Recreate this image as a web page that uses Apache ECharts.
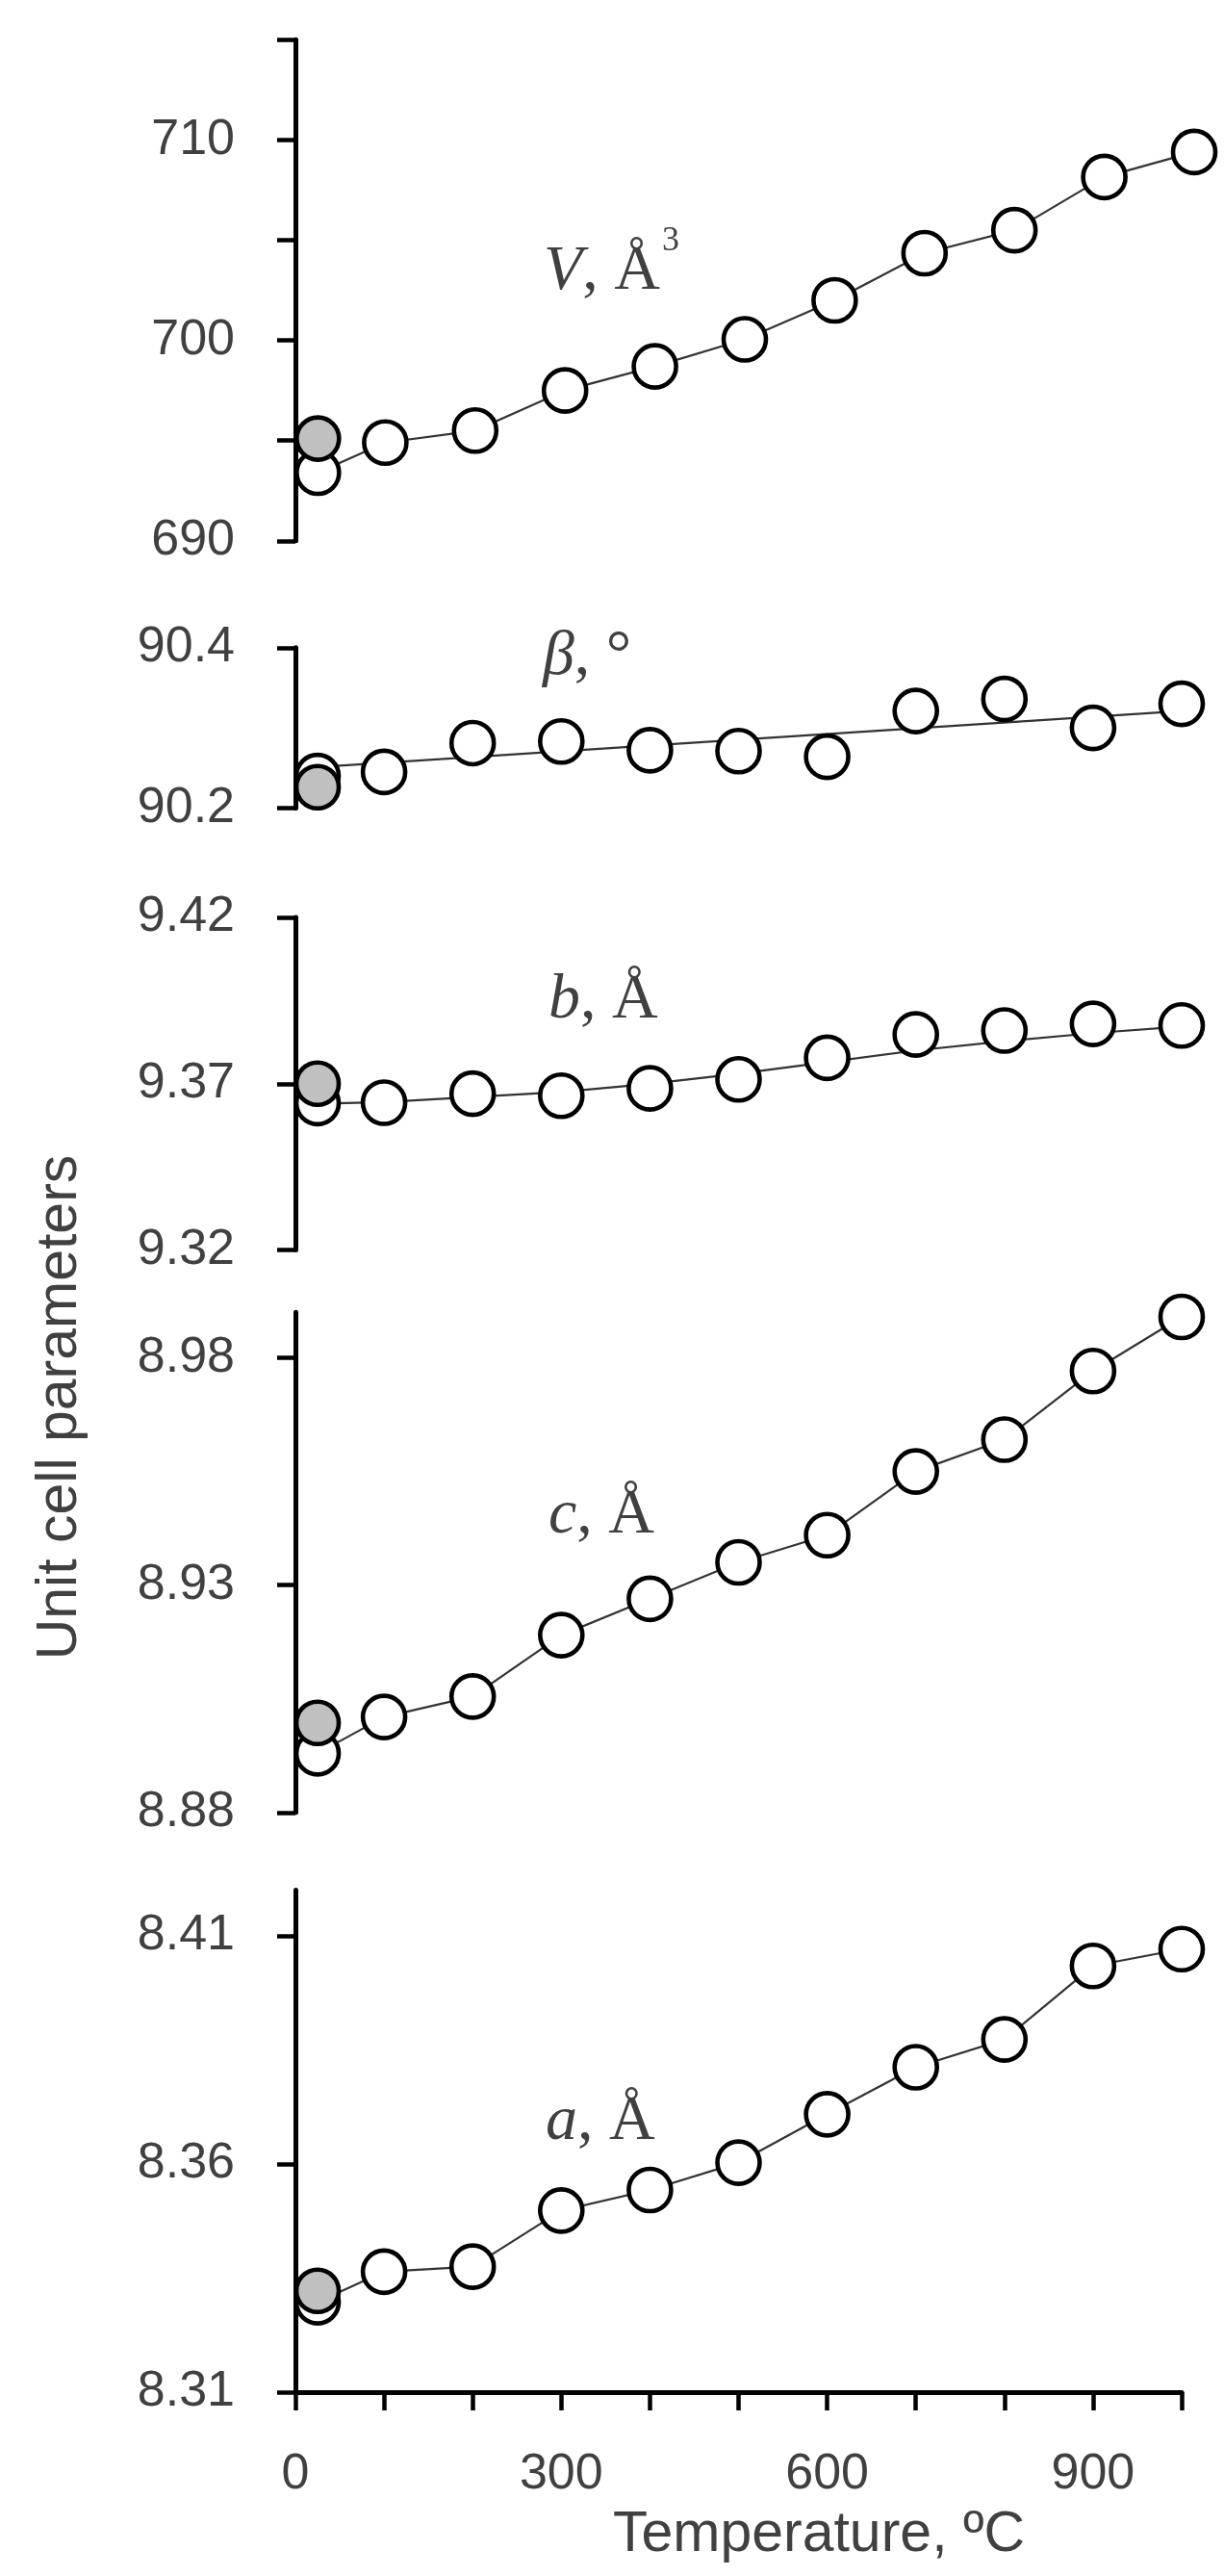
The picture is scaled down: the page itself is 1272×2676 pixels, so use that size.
<!DOCTYPE html>
<html>
<head>
<meta charset="utf-8">
<script src="https://cdn.jsdelivr.net/npm/echarts@6/dist/echarts.min.js"></script>
<style>
html,body{margin:0;padding:0;background:#ffffff;}
#chart{width:1272px;height:2676px;}
</style>
</head>
<body>
<div id="chart"></div>
<script>
// ---------- data ----------
const temperatures = [25, 100, 200, 300, 400, 500, 600, 700, 800, 900, 1000];
const roomTemperature = [25];

const volume      = [693.4, 694.9, 695.5, 697.5, 698.7, 700.05, 702.0, 704.35, 705.5, 708.15, 709.4];
const volumeGray  = [695.1];

const beta        = [90.240, 90.245, 90.281, 90.283, 90.272, 90.271, 90.264, 90.321, 90.336, 90.300, 90.330];
const betaGray    = [90.226];
const betaFitT    = [25, 1000];
const betaFit     = [90.251, 90.321];

const bParam      = [9.3642, 9.3643, 9.3670, 9.3664, 9.3686, 9.3713, 9.3778, 9.3848, 9.3860, 9.3880, 9.3875];
const bGray       = [9.3700];
const bFit        = [9.3640, 9.3645, 9.3660, 9.3675, 9.3700, 9.3730, 9.3765, 9.3800, 9.3828, 9.3852, 9.3872];

const cParam      = [8.8930, 8.9010, 8.9055, 8.9190, 8.9270, 8.9350, 8.9410, 8.9550, 8.9620, 8.9771, 8.9890];
const cGray       = [8.8997];

const aParam      = [8.3297, 8.3364, 8.3375, 8.3498, 8.3543, 8.3603, 8.3709, 8.3812, 8.3873, 8.4034, 8.4071];
const aGray       = [8.3322];

const xTicks  = [0, 100, 200, 300, 400, 500, 600, 700, 800, 900, 1000];
const xLabels = [0, 300, 600, 900];

const vTicks  = [690, 695, 700, 705, 710, 715];
const vLabels = [690, 700, 710];
const betaTicks  = [90.2, 90.4];
const bTicks  = [9.32, 9.37, 9.42];
const cTicks  = [8.88, 8.93, 8.98];
const aTicks  = [8.31, 8.36, 8.41];

// ---------- styles ----------
const INK = '#000000';
const TEXT = '#404040';
const SANS = '"Liberation Sans", Arial, sans-serif';
const SERIF = '"Liberation Serif", "Times New Roman", serif';

const panels = [
  {key:'V', grid:{left:307, top:41.3, width:934, height:520.5}, min:690, max:715, ticks:vTicks, labels:vLabels, dec:0,
   white:volume, gray:volumeGray, fitT:temperatures, fit:volume},
  {key:'beta', grid:{left:307, top:672.8, width:921, height:166.6}, min:90.2, max:90.4, ticks:betaTicks, labels:betaTicks, dec:1,
   white:beta, gray:betaGray, fitT:betaFitT, fit:betaFit},
  {key:'b', grid:{left:307, top:953, width:921, height:345.6}, min:9.32, max:9.42, ticks:bTicks, labels:bTicks, dec:2,
   white:bParam, gray:bGray, fitT:temperatures, fit:bFit},
  {key:'c', grid:{left:307, top:1363.3, width:921, height:519.5}, min:8.88, max:8.99, ticks:cTicks, labels:cTicks, dec:2,
   white:cParam, gray:cGray, fitT:temperatures, fit:cParam},
  {key:'a', grid:{left:307, top:1963.6, width:921, height:521.4}, min:8.31, max:8.42, ticks:aTicks, labels:aTicks, dec:2,
   white:aParam, gray:aGray, fitT:temperatures, fit:aParam}
];

const grids = [], xAxes = [], yAxes = [], series = [];
panels.forEach((p, i) => {
  const last = i === panels.length - 1;
  grids.push(Object.assign({containLabel:false, outerBoundsMode:'none'}, p.grid));
  xAxes.push({
    type:'value', gridIndex:i, min:0, max:1000, show:last,
    axisLine:{show:true, onZero:false, lineStyle:{color:INK, width:5}},
    axisTick:{show:true, inside:false, length:19, customValues:xTicks, lineStyle:{color:INK, width:4.5}},
    axisLabel:{show:true, customValues:xLabels, margin:60, fontSize:52, fontFamily:SANS, color:TEXT,
               formatter:v => String(Math.round(v))},
    splitLine:{show:false}
  });
  yAxes.push({
    type:'value', gridIndex:i, min:p.min, max:p.max,
    axisLine:{show:true, onZero:false, lineStyle:{color:INK, width:5}},
    axisTick:{show:true, inside:false, length:19, customValues:p.ticks, lineStyle:{color:INK, width:4.5}},
    axisLabel:{show:true, customValues:p.labels, margin:63, fontSize:52, fontFamily:SANS, color:TEXT,
               formatter:v => Number(v).toFixed(p.dec)},
    splitLine:{show:false}
  });
  series.push({
    type:'line', xAxisIndex:i, yAxisIndex:i, z:1, silent:true, showSymbol:false, symbol:'none',
    data:p.fitT.map((t,k)=>[t, p.fit[k]]),
    lineStyle:{color:'#333333', width:2.2}
  });
  series.push({
    type:'scatter', xAxisIndex:i, yAxisIndex:i, z:2, silent:true, symbol:'circle', symbolSize:44,
    data:temperatures.map((t,k)=>[t, p.white[k]]),
    itemStyle:{color:'#ffffff', borderColor:INK, borderWidth:4.6, opacity:1}
  });
  series.push({
    type:'scatter', xAxisIndex:i, yAxisIndex:i, z:3, silent:true, symbol:'circle', symbolSize:44,
    data:roomTemperature.map((t,k)=>[t, p.gray[k]]),
    itemStyle:{color:'#c0c0c0', borderColor:INK, borderWidth:4.6, opacity:1}
  });
});

function panelLabel(letter, unit, x, y, unitSize) {
  return {
    type:'text', x:x, y:y, silent:true, z:10,
    style:{
      text:'{i|' + letter + '}{r|' + unit + '}',
      align:'left', verticalAlign:'middle', textAlign:'left', textVerticalAlign:'middle',
      rich:{
        i:{fontFamily:SERIF, fontStyle:'italic', fontSize:66, lineHeight:66, fill:TEXT, color:TEXT},
        r:{fontFamily:SERIF, fontSize:unitSize || 66, lineHeight:66, fill:TEXT, color:TEXT}
      }
    }
  };
}

const graphics = [
  panelLabel('V', ', Å', 565, 283),
  {type:'text', x:688, y:233, silent:true, z:10,
   style:{text:'3', font:'36px ' + SERIF, fill:TEXT, align:'left', verticalAlign:'top', textAlign:'left', textVerticalAlign:'top'}},
  panelLabel('β', ', °', 564, 683),
  panelLabel('b', ', Å', 570, 1040),
  panelLabel('c', ', Å', 570, 1575),
  panelLabel('a', ', Å', 567, 2205),
  {type:'text', x:63, y:1462, rotation:Math.PI/2, silent:true, z:10,
   style:{text:'Unit cell parameters', font:'59px ' + SANS, fill:TEXT, align:'center', verticalAlign:'middle', textAlign:'center', textVerticalAlign:'middle'}},
  {type:'text', x:851, y:2634, silent:true, z:10,
   style:{text:'Temperature, ºC', font:'59px ' + SANS, fill:TEXT, align:'center', verticalAlign:'middle', textAlign:'center', textVerticalAlign:'middle'}}
];

const chart = echarts.init(document.getElementById('chart'), null, {renderer:'canvas', width:1272, height:2676});
chart.setOption({
  backgroundColor:'#ffffff',
  animation:false,
  grid:grids,
  xAxis:xAxes,
  yAxis:yAxes,
  series:series,
  graphic:graphics
});
</script>
</body>
</html>
